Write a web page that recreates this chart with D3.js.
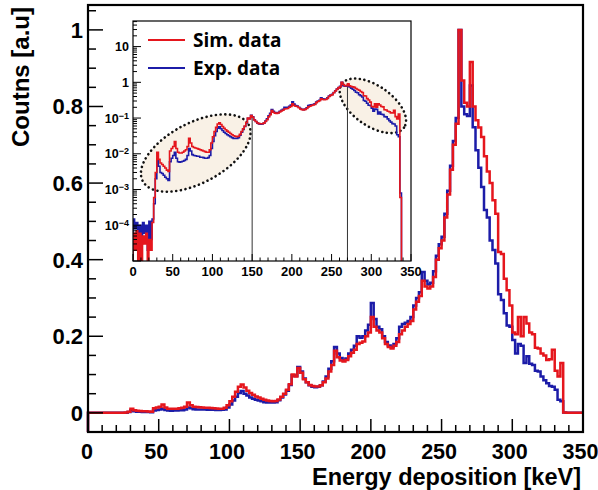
<!DOCTYPE html>
<html>
<head>
<meta charset="utf-8">
<script src="https://cdn.jsdelivr.net/npm/d3@7/dist/d3.min.js"></script>
<style>
    body { margin: 0; background: #fff; }
    svg { display: block; }
    text { font-family: "Liberation Sans", Arial, sans-serif; font-weight: bold; fill: #000; }
</style>
</head>
<body>
<div id="chart"></div>
<script>
// histogram bins: 2 keV wide, 0 - 350 keV
var binWidth = 2;
var binStart = d3.range(0, 350, binWidth);

// Sim. data (red), normalised to the 263 keV peak
var simData = [
    6e-5, 2e-5, 7e-5, 1e-5, 6e-5, 0, 5e-5, 3e-5, 6e-5, 0, 4e-5, 2e-5, 1.2e-4,
    6e-4, 3e-3, 0.011, 0.007, 0.0055, 0.005, 0.0045, 0.004, 0.0035, 0.0032,
    0.012, 0.014, 0.016, 0.022, 0.014, 0.011, 0.0105, 0.0105, 0.011, 0.012,
    0.013, 0.016, 0.027, 0.02, 0.016, 0.015, 0.0145, 0.014, 0.0135, 0.013,
    0.0125, 0.012, 0.0115, 0.011, 0.011, 0.013, 0.02, 0.03, 0.042, 0.055,
    0.068, 0.074, 0.066, 0.058, 0.052, 0.047, 0.043, 0.04, 0.037, 0.034,
    0.032, 0.031, 0.03, 0.031, 0.035, 0.042, 0.05, 0.06, 0.075, 0.1,
    0.095, 0.117, 0.105, 0.088, 0.08, 0.073, 0.07, 0.069, 0.069, 0.072,
    0.08, 0.09, 0.108, 0.125, 0.162, 0.145, 0.137, 0.134, 0.138, 0.148,
    0.157, 0.165, 0.18, 0.183, 0.186, 0.2, 0.21, 0.25, 0.225, 0.215,
    0.21, 0.195, 0.18, 0.172, 0.168, 0.175, 0.185, 0.205, 0.215, 0.225,
    0.232, 0.24, 0.27, 0.29, 0.305, 0.345, 0.33, 0.325, 0.33, 0.355,
    0.4, 0.43, 0.45, 0.51, 0.57, 0.635, 0.7, 0.755, 1.0, 0.868,
    0.81, 0.8, 0.916, 0.8, 0.764, 0.745, 0.72, 0.67, 0.63, 0.6,
    0.555, 0.52, 0.42, 0.415, 0.35, 0.32, 0.28, 0.21, 0.205, 0.25,
    0.2, 0.25, 0.233, 0.21, 0.205, 0.17, 0.168, 0.155, 0.15, 0.138,
    0.14, 0.165, 0.11, 0.095, 0.13, 0.0006, 0, 0, 0, 0,
    0, 0
];

// Exp. data (blue)
var expData = [
    1.5e-4, 8e-5, 1.2e-4, 5e-5, 1e-4, 3e-5, 1.2e-4, 6e-5, 1e-4, 2e-5, 1.3e-4, 4e-5, 1.5e-4,
    4e-4, 2e-3, 0.0068, 0.0045, 0.003, 0.0028, 0.0025, 0.0022, 0.002, 0.0018,
    0.006, 0.0075, 0.009, 0.011, 0.0075, 0.006, 0.0058, 0.006, 0.0062, 0.0065,
    0.007, 0.009, 0.014, 0.012, 0.0095, 0.009, 0.0088, 0.0085, 0.0085, 0.008,
    0.008, 0.0078, 0.0075, 0.0075, 0.0078, 0.009, 0.014, 0.022, 0.032, 0.042,
    0.052, 0.057, 0.05, 0.045, 0.04, 0.037, 0.034, 0.032, 0.03, 0.028,
    0.027, 0.027, 0.027, 0.028, 0.033, 0.04, 0.048, 0.058, 0.073, 0.098,
    0.096, 0.12, 0.108, 0.09, 0.08, 0.072, 0.068, 0.067, 0.068, 0.072,
    0.082, 0.095, 0.115, 0.135, 0.172, 0.155, 0.143, 0.138, 0.142, 0.155,
    0.165, 0.175, 0.2, 0.196, 0.2, 0.215, 0.23, 0.287, 0.245, 0.225,
    0.218, 0.2, 0.185, 0.176, 0.172, 0.18, 0.195, 0.225, 0.232, 0.235,
    0.24, 0.25, 0.28, 0.3, 0.315, 0.368, 0.345, 0.335, 0.34, 0.37,
    0.41, 0.44, 0.46, 0.52, 0.58, 0.645, 0.71, 0.77, 1.0, 0.8,
    0.78, 0.775, 0.855, 0.746, 0.686, 0.64, 0.59, 0.53, 0.51, 0.45,
    0.425, 0.39, 0.31, 0.295, 0.26, 0.228, 0.225, 0.19, 0.155, 0.18,
    0.175, 0.13, 0.148, 0.128, 0.125, 0.11, 0.108, 0.095, 0.085, 0.077,
    0.07, 0.068, 0.06, 0.034, 0.03, 0.0008, 0, 0, 0, 0,
    0, 0
];

var xTicks = [0, 50, 100, 150, 200, 250, 300, 350];
var yTicks = [0, 0.2, 0.4, 0.6, 0.8, 1];
var insetYTicks = [1e-4, 1e-3, 1e-2, 1e-1, 1, 10];
var insetYBase = ["10", "10", "10", "10", "1", "10"];
var insetYExp = ["\u22124", "\u22123", "\u22122", "\u22121", "", ""];
var seriesNames = ["Sim. data", "Exp. data"];
var markedEnergies = [150, 270];
// circled regions of the inset: centre in keV / counts, radii in px
var circled = [
    { e: 79, v: 0.0105, rx: 60, ry: 30, rot: -28 },
    { e: 302, v: 0.22, rx: 38, ry: 20, rot: 35 }
];

var red = "#e5161d";
var blue = "#1c1ca8";

var svgWidth = 598;
var svgHeight = 490;

var svg = d3.select("#chart")
    .append("svg")
    .attr("width", svgWidth)
    .attr("height", svgHeight);

// ---------- main pad ----------
var xScale = d3.scaleLinear().domain([0, 350]).range([88, 583]);
var yScale = d3.scaleLinear().domain([-0.05, 1.065]).range([432, 5]);

function stepPath(values, xs, ys, floor) {
    var pts = [[0, floor]];
    values.forEach(function(v, i) { pts.push([binStart[i], v]); });
    pts.push([350, values[values.length - 1]]);
    return d3.line()
        .x(d => xs(d[0]))
        .y(d => ys(Math.max(d[1], floor)))
        .curve(d3.curveStepAfter)(pts);
}

var mainG = svg.append("g");

mainG.append("path")
    .attr("d", stepPath(expData, xScale, yScale, -0.05))
    .attr("fill", "none")
    .attr("stroke", blue)
    .attr("stroke-width", 2.5);

mainG.append("path")
    .attr("d", stepPath(simData, xScale, yScale, -0.05))
    .attr("fill", "none")
    .attr("stroke", red)
    .attr("stroke-width", 2.5);

// ticks (ROOT style, inside the frame)
var xMinor = d3.range(0, 351, 10);
mainG.selectAll(".xminor")
    .data(xMinor)
    .enter()
    .append("line")
    .attr("x1", d => xScale(d))
    .attr("x2", d => xScale(d))
    .attr("y1", 432)
    .attr("y2", d => d % 50 === 0 ? 419 : 425)
    .attr("stroke", "#000")
    .attr("stroke-width", 1.5);

var yMinor = d3.range(0, 1.051, 0.05);
mainG.selectAll(".yminor")
    .data(yMinor)
    .enter()
    .append("line")
    .attr("x1", 88)
    .attr("x2", (d, i) => i % 4 === 0 ? 103 : 96)
    .attr("y1", d => yScale(d))
    .attr("y2", d => yScale(d))
    .attr("stroke", "#000")
    .attr("stroke-width", 1.5);

mainG.append("rect")
    .attr("x", 88)
    .attr("y", 5)
    .attr("width", 583 - 88)
    .attr("height", 432 - 5)
    .attr("fill", "none")
    .attr("stroke", "#000")
    .attr("stroke-width", 2.2);

mainG.selectAll(".xlab")
    .data(xTicks)
    .enter()
    .append("text")
    .attr("x", d => xScale(d) - (d > 0 ? 2.5 : 1))
    .attr("y", 459)
    .attr("text-anchor", "middle")
    .style("font-size", "21.5px")
    .text(d => d);

mainG.selectAll(".ylab")
    .data(yTicks)
    .enter()
    .append("text")
    .attr("x", 83)
    .attr("y", d => yScale(d))
    .attr("dy", "0.36em")
    .attr("text-anchor", "end")
    .style("font-size", "22px")
    .text(d => d);

mainG.append("text")
    .attr("x", 581)
    .attr("y", 485)
    .attr("text-anchor", "end")
    .style("font-size", "23.5px")
    .text("Energy deposition [keV]");

mainG.append("text")
    .attr("transform", "translate(29, 7) rotate(-90)")
    .attr("text-anchor", "end")
    .style("font-size", "24px")
    .text("Coutns [a.u]");

// ---------- inset pad (log scale) ----------
var ix0 = 133, ix1 = 411, iy0 = 21, iy1 = 261;
var xInset = d3.scaleLinear().domain([0, 350]).range([ix0, ix1]);
var yInset = d3.scaleLog().domain([1e-5, 52]).range([iy1, iy0]);

var inset = svg.append("g");

inset.append("rect")
    .attr("x", ix0)
    .attr("y", iy0)
    .attr("width", ix1 - ix0)
    .attr("height", iy1 - iy0)
    .attr("fill", "#fff");

svg.append("clipPath")
    .attr("id", "insetClip")
    .append("rect")
    .attr("x", ix0)
    .attr("y", iy0)
    .attr("width", ix1 - ix0)
    .attr("height", iy1 - iy0);

var insetPlot = inset.append("g").attr("clip-path", "url(#insetClip)");

insetPlot.selectAll(".circled")
    .data(circled)
    .enter()
    .append("ellipse")
    .attr("transform", d => `translate(${xInset(d.e)}, ${yInset(d.v)}) rotate(${d.rot})`)
    .attr("rx", d => d.rx)
    .attr("ry", d => d.ry)
    .attr("fill", "#f9f1e6")
    .attr("stroke", "#111")
    .attr("stroke-width", 2.6)
    .attr("stroke-dasharray", "0.1,4.6")
    .attr("stroke-linecap", "round");

insetPlot.selectAll(".marker")
    .data(markedEnergies)
    .enter()
    .append("line")
    .attr("x1", d => xInset(d))
    .attr("x2", d => xInset(d))
    .attr("y1", d => yInset(simData[Math.floor(d / binWidth)]))
    .attr("y2", iy1)
    .attr("stroke", "#333")
    .attr("stroke-width", 1);

insetPlot.append("path")
    .attr("d", stepPath(expData, xInset, yInset, 2e-6))
    .attr("fill", "none")
    .attr("stroke", blue)
    .attr("stroke-width", 1.6);

insetPlot.append("path")
    .attr("d", stepPath(simData, xInset, yInset, 2e-6))
    .attr("fill", "none")
    .attr("stroke", red)
    .attr("stroke-width", 1.6);

// inset ticks
inset.selectAll(".ixt")
    .data(xMinor)
    .enter()
    .append("line")
    .attr("x1", d => xInset(d))
    .attr("x2", d => xInset(d))
    .attr("y1", iy1)
    .attr("y2", d => d % 50 === 0 ? iy1 - 7 : iy1 - 3.5)
    .attr("stroke", "#000")
    .attr("stroke-width", 1);

var logMinor = [];
[1e-5, 1e-4, 1e-3, 1e-2, 1e-1, 1, 10].forEach(function(dec) {
    d3.range(1, 10).forEach(function(m) {
        if (dec * m <= 52) logMinor.push({ v: dec * m, major: m === 1 });
    });
});
inset.selectAll(".iyt")
    .data(logMinor)
    .enter()
    .append("line")
    .attr("x1", ix0)
    .attr("x2", d => d.major ? ix0 + 8 : ix0 + 4)
    .attr("y1", d => yInset(d.v))
    .attr("y2", d => yInset(d.v))
    .attr("stroke", "#000")
    .attr("stroke-width", 1);

inset.append("rect")
    .attr("x", ix0)
    .attr("y", iy0)
    .attr("width", ix1 - ix0)
    .attr("height", iy1 - iy0)
    .attr("fill", "none")
    .attr("stroke", "#000")
    .attr("stroke-width", 1.2);

inset.selectAll(".ixlab")
    .data(xTicks)
    .enter()
    .append("text")
    .attr("x", d => xInset(d))
    .attr("y", 276)
    .attr("text-anchor", "middle")
    .style("font-size", "13px")
    .text(d => d);

var iyLab = inset.selectAll(".iylab")
    .data(insetYTicks)
    .enter()
    .append("text")
    .attr("x", 129)
    .attr("y", d => yInset(d))
    .attr("dy", "0.36em")
    .attr("text-anchor", "end")
    .style("font-size", "12.5px");
iyLab.append("tspan").text((d, i) => insetYBase[i]);
iyLab.append("tspan")
    .attr("dy", "-0.45em")
    .style("font-size", "9px")
    .text((d, i) => insetYExp[i]);

// legend
var legend = inset.selectAll(".legend")
    .data(seriesNames)
    .enter()
    .append("g")
    .attr("transform", (d, i) => `translate(0, ${40 + i * 28})`);

legend.append("line")
    .attr("x1", 148)
    .attr("x2", 185)
    .attr("stroke", (d, i) => i === 0 ? red : blue)
    .attr("stroke-width", 2);

legend.append("text")
    .attr("x", 193)
    .attr("y", 7)
    .style("font-family", "'Open Sans', sans-serif")
    .style("font-size", "19px")
    .style("font-weight", "700")
    .text(d => d);
</script>
</body>
</html>
